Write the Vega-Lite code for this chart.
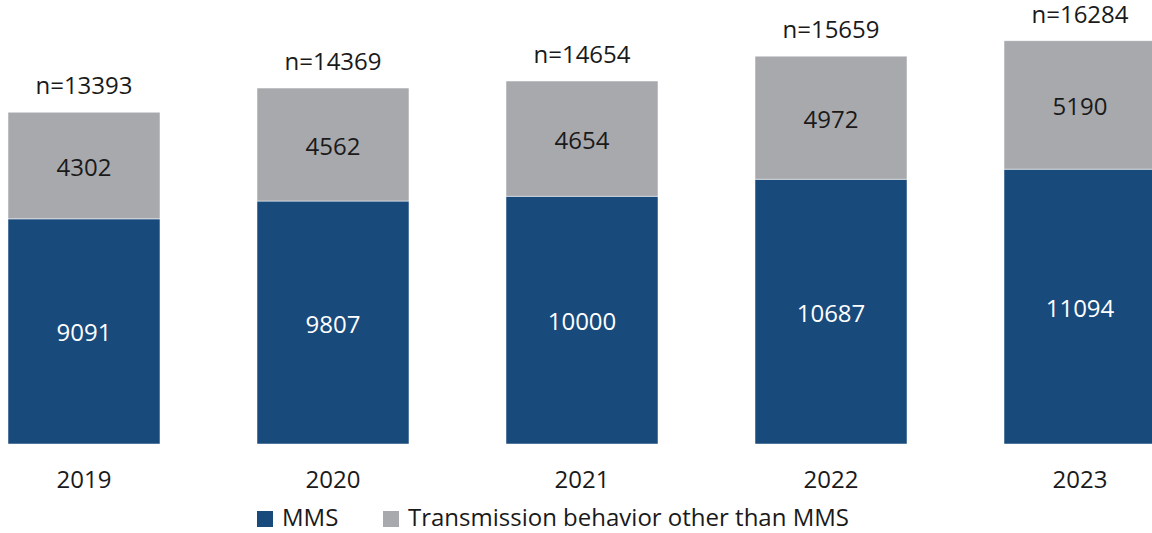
{
  "$schema": "https://vega.github.io/schema/vega-lite/v6.json",
  "width": 1152,
  "height": 444,
  "autosize": {"type": "none"},
  "padding": {"left": 0, "top": 0, "right": 0, "bottom": 89},
  "config": {"view": {"stroke": null}, "font": "Open Sans"},
  "data": {
    "values": [
      {"year": "2019", "type": "MMS", "value": 9091},
      {"year": "2019", "type": "Transmission behavior other than MMS", "value": 4302},
      {"year": "2020", "type": "MMS", "value": 9807},
      {"year": "2020", "type": "Transmission behavior other than MMS", "value": 4562},
      {"year": "2021", "type": "MMS", "value": 10000},
      {"year": "2021", "type": "Transmission behavior other than MMS", "value": 4654},
      {"year": "2022", "type": "MMS", "value": 10687},
      {"year": "2022", "type": "Transmission behavior other than MMS", "value": 4972},
      {"year": "2023", "type": "MMS", "value": 11094},
      {"year": "2023", "type": "Transmission behavior other than MMS", "value": 5190}
    ]
  },
  "encoding": {
    "x": {
      "field": "year",
      "type": "ordinal",
      "scale": {"range": [0, 1164], "paddingInner": 0.3896, "paddingOuter": 0.0321},
      "axis": {
        "title": null,
        "labelAngle": 0,
        "labelFontSize": 24,
        "labelColor": "#1a1a1a",
        "domain": false,
        "ticks": false,
        "tickSize": 0,
        "labelPadding": 24
      }
    }
  },
  "layer": [
    {
      "mark": {"type": "bar", "stroke": "#ffffff", "strokeWidth": 0.5},
      "encoding": {
        "y": {"field": "value", "type": "quantitative", "stack": "zero", "scale": {"domain": [0, 17925]}, "axis": null},
        "order": {"field": "type", "sort": "ascending"},
        "color": {
          "field": "type",
          "type": "nominal",
          "scale": {"domain": ["MMS", "Transmission behavior other than MMS"], "range": ["#184a7c", "#a8a9ad"]},
          "legend": {
            "title": null,
            "orient": "none",
            "direction": "horizontal",
            "legendX": 253,
            "legendY": 507,
            "labelFontSize": 24,
            "labelColor": "#1a1a1a",
            "labelLimit": 0,
            "symbolType": "square",
            "symbolSize": 256,
            "symbolStrokeWidth": 0,
            "columnPadding": 40,
            "labelOffset": 5
          }
        }
      }
    },
    {
      "transform": [
        {"stack": "value", "groupby": ["year"], "sort": [{"field": "type", "order": "ascending"}], "as": ["v0", "v1"]},
        {"calculate": "(datum.v0 + datum.v1) / 2", "as": "mid"}
      ],
      "mark": {"type": "text", "fontSize": 24, "baseline": "middle", "dy": 3},
      "encoding": {
        "y": {"field": "mid", "type": "quantitative", "scale": {"domain": [0, 17925]}},
        "text": {"field": "value", "type": "quantitative", "format": "d"},
        "color": {"condition": {"test": "datum.type === 'MMS'", "value": "#ffffff"}, "value": "#1a1a1a"}
      }
    },
    {
      "transform": [
        {"aggregate": [{"op": "sum", "field": "value", "as": "total"}], "groupby": ["year"]},
        {"calculate": "'n=' + datum.total", "as": "lbl"}
      ],
      "mark": {"type": "text", "fontSize": 24, "baseline": "middle", "dy": -25, "color": "#1a1a1a"},
      "encoding": {
        "y": {"field": "total", "type": "quantitative", "scale": {"domain": [0, 17925]}},
        "text": {"field": "lbl", "type": "nominal"}
      }
    }
  ]
}
